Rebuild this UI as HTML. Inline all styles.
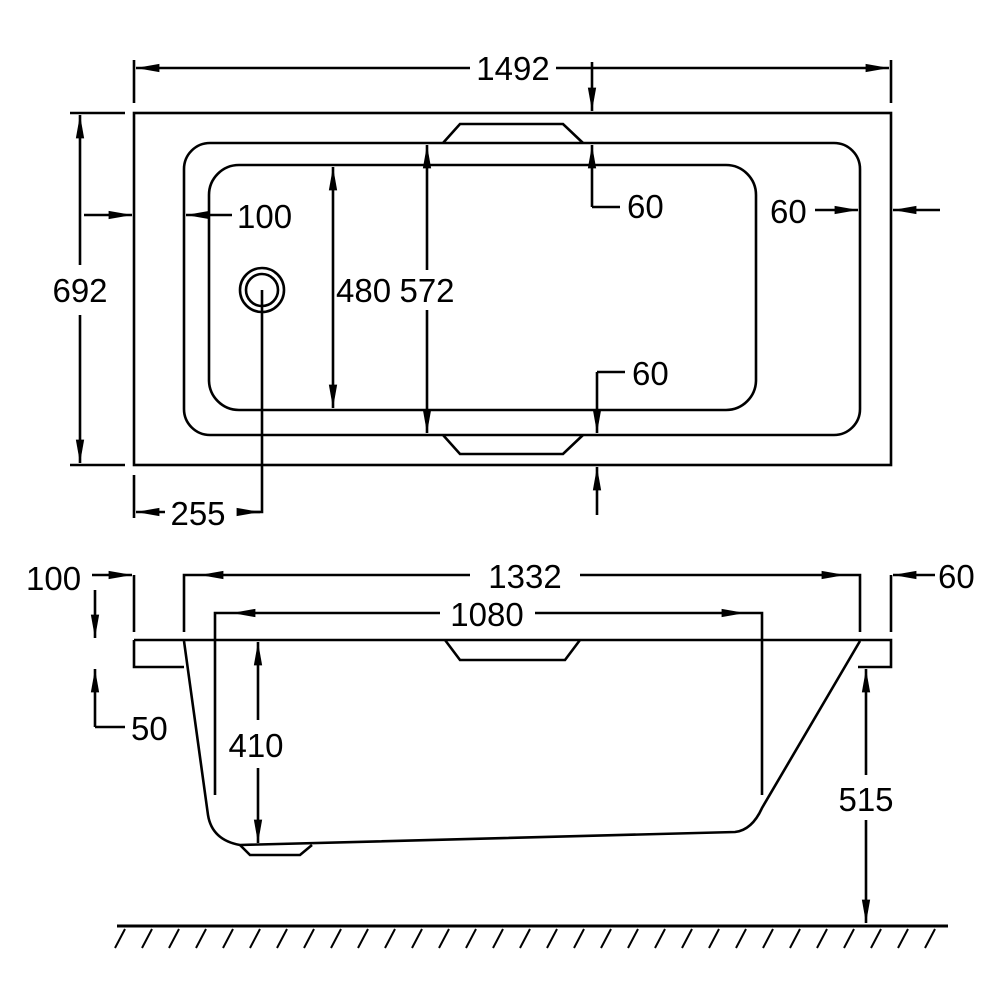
<!DOCTYPE html>
<html><head><meta charset="utf-8"><style>
html,body{margin:0;padding:0;background:#fff}
svg{display:block}
text{font-family:"Liberation Sans",sans-serif;font-size:33px;fill:#000}
</style></head><body>
<svg width="1005" height="1005" viewBox="0 0 1005 1005" xmlns="http://www.w3.org/2000/svg">
<defs>
<marker id="a" viewBox="0 0 10 10" refX="10" refY="5" markerWidth="9" markerHeight="4" orient="auto-start-reverse" markerUnits="strokeWidth" preserveAspectRatio="none"><path d="M0,1 L10,5 L0,9z" fill="#000"/></marker>
</defs>
<g fill="none" stroke="#000" stroke-width="2.6">
<rect x="134" y="113" width="757" height="352"/>
<rect x="184" y="143" width="676" height="292" rx="26"/>
<rect x="209" y="165" width="547" height="245" rx="30"/>
<path d="M443,143 L460,124 L563,124 L583,143"/>
<path d="M443,435 L460,454 L563,454 L583,435"/>
<circle cx="262" cy="290" r="22"/>
<circle cx="262" cy="290" r="16"/>
<path d="M134,60 V103 M891,60 V103"/>
<path d="M136,68 H470 M556,68 H889" marker-start="url(#a)" marker-end="url(#a)"/>
<path d="M592,62 V111" marker-end="url(#a)"/>
<path d="M70,113 H125 M70,465 H125"/>
<path d="M80,115 V265 M80,315 V463" marker-start="url(#a)" marker-end="url(#a)"/>
<path d="M84,215 H132" marker-end="url(#a)"/>
<path d="M232,215 H186" marker-end="url(#a)"/>
<path d="M333,167 V408" marker-start="url(#a)" marker-end="url(#a)"/>
<path d="M427,145 V270 M427,310 V433" marker-start="url(#a)" marker-end="url(#a)"/>
<path d="M592,207 V145" marker-end="url(#a)"/>
<path d="M592,207 H620"/>
<path d="M815,210 H858" marker-end="url(#a)"/>
<path d="M940,210 H893" marker-end="url(#a)"/>
<path d="M597,372 V433" marker-end="url(#a)"/>
<path d="M597,372 H625"/>
<path d="M597,515 V467" marker-end="url(#a)"/>
<path d="M134,475 V518"/>
<path d="M262,290 V512 H238"/>
<path d="M165,512 H136" marker-end="url(#a)"/>
<path d="M238,512 H260" marker-end="url(#a)"/>
<path d="M134,640 H891 V667 H858 M184,667 H134 V640"/>
<path d="M445,640 L460,660 L565,660 L580,640"/>
<path d="M184,641 L208,815 Q212,840 240,845 L735,832 Q752,830 762,808 L860,641"/>
<path d="M240,845 L250,855 L300,855 L312,845"/>
<path d="M215,795 V613 H232"/>
<path d="M762,795 V613 H745"/>
<path d="M184,632 V575 H200 M860,632 V575 H845"/>
<path d="M200,575 H470 M580,575 H845" marker-start="url(#a)" marker-end="url(#a)"/>
<path d="M232,613 H440 M535,613 H745" marker-start="url(#a)" marker-end="url(#a)"/>
<path d="M134,632 V575"/>
<path d="M92,575 H132" marker-end="url(#a)"/>
<path d="M95,590 V638" marker-end="url(#a)"/>
<path d="M95,727 V669" marker-end="url(#a)"/>
<path d="M95,727 H125"/>
<path d="M891,632 V575"/>
<path d="M935,575 H893" marker-end="url(#a)"/>
<path d="M258,642 V720 M258,768 V843" marker-start="url(#a)" marker-end="url(#a)"/>
<path d="M866,669 V775 M866,820 V923" marker-start="url(#a)" marker-end="url(#a)"/>
<path d="M117,926 H948" stroke-width="3"/>
<path d="M125,929 L115,948 M152,929 L142,948 M179,929 L169,948 M206,929 L196,948 M233,929 L223,948 M260,929 L250,948 M287,929 L277,948 M314,929 L304,948 M341,929 L331,948 M368,929 L358,948 M395,929 L385,948 M422,929 L412,948 M449,929 L439,948 M476,929 L466,948 M503,929 L493,948 M530,929 L520,948 M557,929 L547,948 M584,929 L574,948 M611,929 L601,948 M638,929 L628,948 M665,929 L655,948 M692,929 L682,948 M719,929 L709,948 M746,929 L736,948 M773,929 L763,948 M800,929 L790,948 M827,929 L817,948 M854,929 L844,948 M881,929 L871,948 M908,929 L898,948 M935,929 L925,948" stroke-width="2"/>
</g>
<g>
<text x="513" y="80" text-anchor="middle">1492</text>
<text x="80" y="302" text-anchor="middle">692</text>
<text x="237" y="228">100</text>
<text x="336" y="302">480</text>
<text x="427" y="302" text-anchor="middle">572</text>
<text x="627" y="218">60</text>
<text x="770" y="223">60</text>
<text x="632" y="385">60</text>
<text x="198" y="525" text-anchor="middle">255</text>
<text x="26" y="590">100</text>
<text x="525" y="588" text-anchor="middle">1332</text>
<text x="487" y="626" text-anchor="middle">1080</text>
<text x="938" y="588">60</text>
<text x="131" y="740">50</text>
<text x="256" y="757" text-anchor="middle">410</text>
<text x="866" y="811" text-anchor="middle">515</text>
</g>
</svg>
</body></html>
